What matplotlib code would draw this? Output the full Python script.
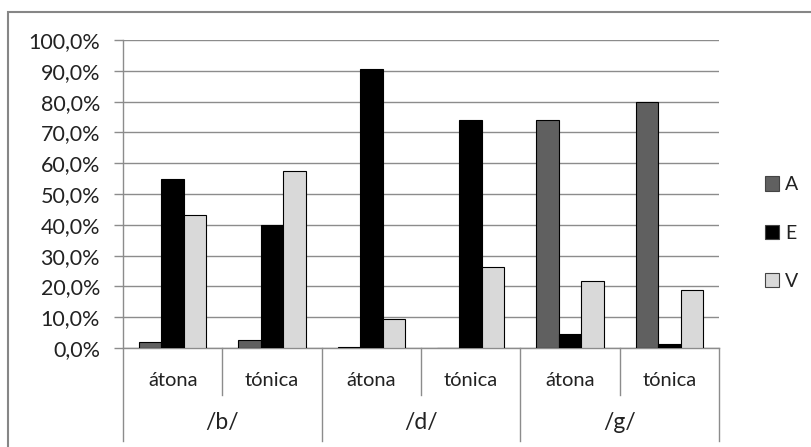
import matplotlib.pyplot as plt
from matplotlib.patches import Patch, Rectangle
from matplotlib.ticker import FuncFormatter
from matplotlib.transforms import blended_transform_factory
import numpy as np

plt.rcParams['font.family'] = ['Lato', 'DejaVu Sans']

# --- Data ---
consonants = ['/b/', '/d/', '/g/']
stress = ['átona', 'tónica']
series_names = ['A', 'E', 'V']
A = [1.9, 2.7, 0.4, 0.0, 73.9, 79.9]
E = [54.9, 39.9, 90.6, 73.9, 4.6, 1.2]
V = [43.1, 57.5, 9.5, 26.2, 21.9, 18.9]
colors = ['#606060', '#000000', '#d9d9d9']

grid_col = '#8c8c8c'
text_col = '#222222'

fig = plt.figure(figsize=(8.11, 4.47), dpi=100)
ax = fig.add_axes([123 / 811, 1 - 348 / 447, (719 - 123) / 811, 308 / 447])

# outer chart border
fig.patches.append(Rectangle((8 / 811, -0.1), 1.2, 1 - 12 / 447 + 0.1,
                             transform=fig.transFigure, fill=False,
                             edgecolor='#868686', linewidth=1.5))

x = np.arange(len(A))
w = 0.227
for k, (vals, col, name) in enumerate(zip([A, E, V], colors, series_names)):
    ax.bar(x + (k - 1) * w, vals, width=w, color=col, edgecolor='black',
           linewidth=0.8, label=name, zorder=3)

ax.set_xlim(-0.5, len(A) - 0.5)
ax.set_ylim(0, 100)
ax.set_yticks(np.arange(0, 101, 10))
ax.yaxis.set_major_formatter(FuncFormatter(lambda v, p: f'{v:.1f}%'.replace('.', ',')))
ax.tick_params(axis='y', length=6.5, color=grid_col, width=1, pad=10,
               labelsize=15.5, labelcolor=text_col)
ax.set_xticks([])
ax.yaxis.grid(True, color=grid_col, linewidth=1, zorder=0)
for s in ax.spines.values():
    s.set_visible(False)

# multi-level category axis
tr = blended_transform_factory(ax.transData, ax.transAxes)
line_kw = dict(color=grid_col, linewidth=1, clip_on=False, transform=tr)
ax.plot([-0.5, len(A) - 0.5], [0, 0], **line_kw)
for b in np.arange(-0.5, len(A), 1):
    is_group = int(b + 0.5) % 2 == 0
    low = -0.302 if is_group else -0.1526
    if b == -0.5:
        ax.plot([b, b], [low, 1], **line_kw)
    else:
        ax.plot([b, b], [low, 0], **line_kw)

for i in x:
    ax.text(i, -0.107, stress[i % 2], transform=tr, ha='center', va='center',
            fontsize=14.5, color=text_col)
for g, name in enumerate(consonants):
    ax.text(2 * g + 0.5, -0.2435, name, transform=tr, ha='center', va='center',
            fontsize=16.5, color=text_col)

handles = [Patch(facecolor=c, edgecolor='#444444', linewidth=0.8) for c in colors]
fig.legend(handles, series_names, loc='center left', bbox_to_anchor=(755 / 811, 1 - 233 / 447),
           frameon=False, fontsize=14, labelcolor=text_col, handlelength=0.75,
           handleheight=0.75, handletextpad=0.3, labelspacing=1.6, borderpad=0)

fig.savefig('out.png', dpi=100)
